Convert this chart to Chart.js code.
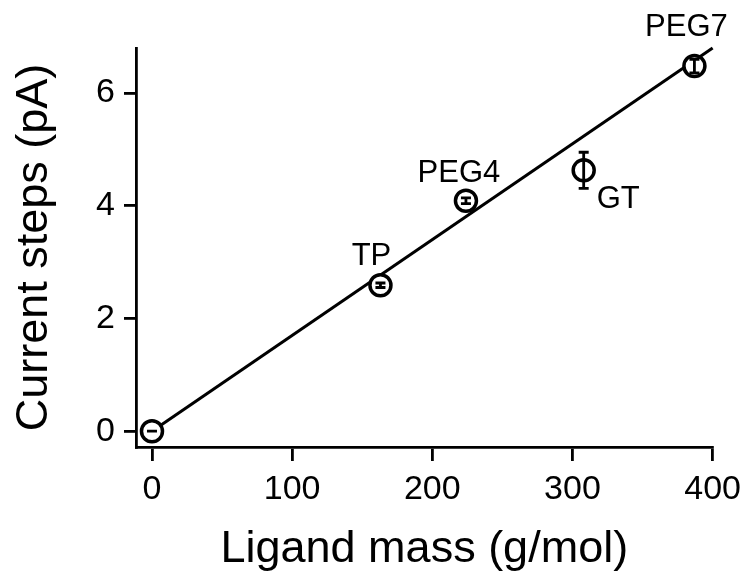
<!DOCTYPE html>
<html><head><meta charset="utf-8">
<script src="https://cdn.jsdelivr.net/npm/chart.js@4"></script>
<style>html,body{margin:0;padding:0;background:#fff}#wrap{width:749px;height:575px}</style>
</head><body><div id="wrap"><canvas id="c" width="749" height="575"></canvas></div>
<script>
// ---- data ----
const ligandNames = ['', 'TP', 'PEG4', 'GT', 'PEG7'];
const ligandMass = [0, 163, 224, 308, 387];
const currentSteps = [0, 2.59, 4.09, 4.63, 6.48];
const stepErrors = [0, 0.04, 0.05, 0.32, 0.12];
const fitMass = [0, 400];
const fitSteps = [0, 6.8];
const xTickValues = [0, 100, 200, 300, 400];
const yTickValues = [0, 2, 4, 6];

const FAMILY = "'Liberation Sans', Arial, sans-serif";
const labelStyle = {
  TP:   {dx: -9, dy: -20, align: 'center'},
  PEG4: {dx: -7, dy: -19, align: 'center'},
  GT:   {dx: 13, dy: 38, align: 'left'},
  PEG7: {dx: -8, dy: -30, align: 'center'}
};

const overlay = {
  id: 'overlay',
  afterDatasetsDraw(chart) {
    const ctx = chart.ctx, xs = chart.scales.x, ys = chart.scales.y;
    ctx.save();
    ctx.strokeStyle = '#000';
    ctx.lineWidth = 2.8;
    ligandMass.forEach((m, i) => {
      const px = xs.getPixelForValue(m);
      const top = ys.getPixelForValue(currentSteps[i] + stepErrors[i]);
      const bot = ys.getPixelForValue(currentSteps[i] - stepErrors[i]);
      ctx.beginPath();
      ctx.moveTo(px, top); ctx.lineTo(px, bot);
      ctx.moveTo(px - 5, top); ctx.lineTo(px + 5, top);
      ctx.moveTo(px - 5, bot); ctx.lineTo(px + 5, bot);
      ctx.stroke();
    });
    ctx.fillStyle = '#000';
    ctx.font = '31px ' + FAMILY;
    ctx.textBaseline = 'alphabetic';
    ligandNames.forEach((n, i) => {
      if (!n) return;
      const o = labelStyle[n];
      const px = xs.getPixelForValue(ligandMass[i]);
      const py = ys.getPixelForValue(currentSteps[i]);
      ctx.textAlign = o.align;
      ctx.fillText(n, px + o.dx, py + o.dy);
    });
    ctx.restore();
  }
};

new Chart(document.getElementById('c'), {
  data: {
    datasets: [
      {
        type: 'scatter',
        data: ligandMass.map((m, i) => ({x: m, y: currentSteps[i]})),
        backgroundColor: '#fff',
        borderColor: '#000',
        borderWidth: 3.5,
        pointRadius: 10.5,
        pointHoverRadius: 10.5,
        order: 0,
        clip: false
      },
      {
        type: 'line',
        data: fitMass.map((m, i) => ({x: m, y: fitSteps[i]})),
        borderColor: '#000',
        borderWidth: 3,
        pointRadius: 0,
        fill: false,
        order: 1,
        clip: false
      }
    ]
  },
  options: {
    responsive: false,
    animation: false,
    events: [],
    layout: {padding: {left: 0, right: 36, top: 48, bottom: 0}},
    plugins: {legend: {display: false}, tooltip: {enabled: false}},
    scales: {
      x: {
        type: 'linear',
        min: -11.4,
        max: 400,
        afterBuildTicks: s => { s.ticks = xTickValues.map(v => ({value: v})); },
        afterFit: s => { s.height = 128; },
        grid: {drawOnChartArea: false, drawTicks: true, tickLength: 14, color: '#000', lineWidth: 2.8},
        border: {display: true, color: '#000', width: 2.8},
        ticks: {color: '#000', font: {size: 34, family: FAMILY}, padding: 8, maxRotation: 0, autoSkip: false},
        title: {display: true, text: 'Ligand mass (g/mol)', color: '#000', font: {size: 45, family: FAMILY}, padding: {top: 0, bottom: -2}}
      },
      y: {
        type: 'linear',
        min: -0.28,
        max: 6.8,
        afterBuildTicks: s => { s.ticks = yTickValues.map(v => ({value: v})); },
        afterFit: s => { s.width = 136; },
        grid: {drawOnChartArea: false, drawTicks: true, tickLength: 12, color: '#000', lineWidth: 2.8},
        border: {display: true, color: '#000', width: 2.8},
        ticks: {color: '#000', font: {size: 34, family: FAMILY}, padding: 9},
        title: {display: true, text: 'Current steps (pA)', color: '#000', font: {size: 45, family: FAMILY}, padding: {top: 8, bottom: 0}}
      }
    }
  },
  plugins: [overlay]
});
</script>
</body></html>
